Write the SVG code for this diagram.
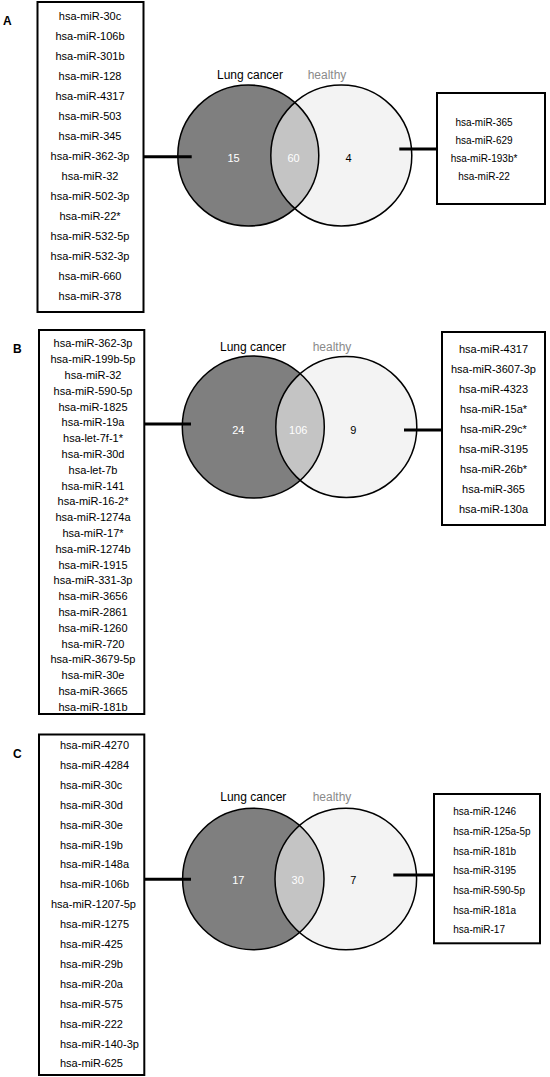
<svg xmlns="http://www.w3.org/2000/svg" width="550" height="1077" viewBox="0 0 550 1077">
<style>
.box{fill:#fff;stroke:#000;stroke-width:2}
.lst{font-family:"Liberation Sans",Arial,sans-serif;font-size:11px;fill:#000}
.c{text-anchor:middle}
.sm{font-size:10px}
.lc{fill:#7f7f7f;stroke:none}
.rc{fill:#f3f3f3;stroke:none}
.ln{fill:#c4c4c4;stroke:none}
.ol{fill:none;stroke:#000;stroke-width:1.5}
.ttl{font-family:"Liberation Sans",Arial,sans-serif;font-size:12px;text-anchor:middle}
.num{font-family:"Liberation Sans",Arial,sans-serif;font-size:11px;text-anchor:middle}
.w{fill:#fff}
.k{fill:#000}
.pl{font-family:"Liberation Sans",Arial,sans-serif;font-size:12px;font-weight:bold}
.con{stroke:#000;stroke-width:3;fill:none}
</style>
<defs>
<clipPath id="clipA"><circle cx="248.3" cy="155.5" r="70.5"/></clipPath>
<clipPath id="clipB"><circle cx="253.3" cy="427" r="71"/></clipPath>
<clipPath id="clipC"><circle cx="253.3" cy="879" r="70.7"/></clipPath>
</defs>
<rect width="550" height="1077" fill="#fff"/>

<text class="pl" x="3" y="25">A</text>
<text class="pl" x="13" y="353">B</text>
<text class="pl" x="13" y="758">C</text>

<!-- Panel A -->
<g id="A-list-left">
<rect class="box" x="37.5" y="2" width="106" height="310"/>
<g class="lst c">
<text x="90" y="20">hsa-miR-30c</text>
<text x="90" y="40">hsa-miR-106b</text>
<text x="90" y="60">hsa-miR-301b</text>
<text x="90" y="80">hsa-miR-128</text>
<text x="90" y="100">hsa-miR-4317</text>
<text x="90" y="120">hsa-miR-503</text>
<text x="90" y="140">hsa-miR-345</text>
<text x="90" y="160">hsa-miR-362-3p</text>
<text x="90" y="180">hsa-miR-32</text>
<text x="90" y="200">hsa-miR-502-3p</text>
<text x="90" y="220">hsa-miR-22*</text>
<text x="90" y="240">hsa-miR-532-5p</text>
<text x="90" y="260">hsa-miR-532-3p</text>
<text x="90" y="280">hsa-miR-660</text>
<text x="90" y="300">hsa-miR-378</text>
</g>
</g>
<g id="A-venn">
<text class="ttl k" x="250" y="79">Lung cancer</text>
<text class="ttl" x="327" y="79" fill="#8a8a8a">healthy</text>
<g id="A-lung"><circle class="lc" cx="248.3" cy="155.5" r="70.5"/></g>
<g id="A-healthy"><circle class="rc" cx="341.3" cy="155.5" r="70.5"/></g>
<circle class="ln" cx="341.3" cy="155.5" r="70.5" clip-path="url(#clipA)"/>
<circle class="ol" cx="248.3" cy="155.5" r="70.5"/>
<circle class="ol" cx="341.3" cy="155.5" r="70.5"/>
<text class="num w" x="233.5" y="161.5">15</text>
<text class="num w" x="293.5" y="161.5">60</text>
<text class="num k" x="348.5" y="161.5">4</text>
</g>
<g id="A-list-right">
<rect class="box" x="437" y="93" width="108" height="111"/>
<g class="lst c sm">
<text x="484" y="125.5">hsa-miR-365</text>
<text x="484" y="143.8">hsa-miR-629</text>
<text x="484" y="162.1">hsa-miR-193b*</text>
<text x="484" y="180.4">hsa-miR-22</text>
</g>
</g>

<!-- Panel B -->
<g id="B-list-left">
<rect class="box" x="39" y="330" width="105.3" height="384"/>
<g class="lst c">
<text x="93" y="347.3">hsa-miR-362-3p</text>
<text x="93" y="363.1">hsa-miR-199b-5p</text>
<text x="93" y="378.9">hsa-miR-32</text>
<text x="93" y="394.7">hsa-miR-590-5p</text>
<text x="93" y="410.5">hsa-miR-1825</text>
<text x="93" y="426.3">hsa-miR-19a</text>
<text x="93" y="442.1">hsa-let-7f-1*</text>
<text x="93" y="457.9">hsa-miR-30d</text>
<text x="93" y="473.7">hsa-let-7b</text>
<text x="93" y="489.5">hsa-miR-141</text>
<text x="93" y="505.3">hsa-miR-16-2*</text>
<text x="93" y="521.1">hsa-miR-1274a</text>
<text x="93" y="536.9">hsa-miR-17*</text>
<text x="93" y="552.7">hsa-miR-1274b</text>
<text x="93" y="568.5">hsa-miR-1915</text>
<text x="93" y="584.3">hsa-miR-331-3p</text>
<text x="93" y="600.1">hsa-miR-3656</text>
<text x="93" y="615.9">hsa-miR-2861</text>
<text x="93" y="631.7">hsa-miR-1260</text>
<text x="93" y="647.5">hsa-miR-720</text>
<text x="93" y="663.3">hsa-miR-3679-5p</text>
<text x="93" y="679.1">hsa-miR-30e</text>
<text x="93" y="694.9">hsa-miR-3665</text>
<text x="93" y="710.7">hsa-miR-181b</text>
</g>
</g>
<g id="B-venn">
<text class="ttl k" x="253" y="351">Lung cancer</text>
<text class="ttl" x="332" y="351" fill="#8a8a8a">healthy</text>
<g id="B-lung"><circle class="lc" cx="253.3" cy="427" r="71"/></g>
<g id="B-healthy"><circle class="rc" cx="346.3" cy="427" r="70.5"/></g>
<circle class="ln" cx="346.3" cy="427" r="70.5" clip-path="url(#clipB)"/>
<circle class="ol" cx="253.3" cy="427" r="71"/>
<circle class="ol" cx="346.3" cy="427" r="70.5"/>
<text class="num w" x="238.3" y="434">24</text>
<text class="num w" x="298.3" y="434">106</text>
<text class="num k" x="353.3" y="434">9</text>
</g>
<g id="B-list-right">
<rect class="box" x="442" y="332" width="103" height="193"/>
<g class="lst c">
<text x="493.5" y="353.3">hsa-miR-4317</text>
<text x="493.5" y="373.2">hsa-miR-3607-3p</text>
<text x="493.5" y="393.1">hsa-miR-4323</text>
<text x="493.5" y="413">hsa-miR-15a*</text>
<text x="493.5" y="432.9">hsa-miR-29c*</text>
<text x="493.5" y="452.8">hsa-miR-3195</text>
<text x="493.5" y="472.7">hsa-miR-26b*</text>
<text x="493.5" y="492.6">hsa-miR-365</text>
<text x="493.5" y="512.5">hsa-miR-130a</text>
</g>
</g>

<!-- Panel C -->
<g id="C-list-left">
<rect class="box" x="39" y="734.5" width="105.3" height="340.5"/>
<g class="lst">
<text x="60" y="749">hsa-miR-4270</text>
<text x="60" y="768.9">hsa-miR-4284</text>
<text x="60" y="788.8">hsa-miR-30c</text>
<text x="60" y="808.7">hsa-miR-30d</text>
<text x="60" y="828.6">hsa-miR-30e</text>
<text x="60" y="848.5">hsa-miR-19b</text>
<text x="60" y="868.4">hsa-miR-148a</text>
<text x="60" y="888.3">hsa-miR-106b</text>
<text x="51" y="908.2">hsa-miR-1207-5p</text>
<text x="60" y="928.1">hsa-miR-1275</text>
<text x="60" y="948">hsa-miR-425</text>
<text x="60" y="967.9">hsa-miR-29b</text>
<text x="60" y="987.8">hsa-miR-20a</text>
<text x="60" y="1007.7">hsa-miR-575</text>
<text x="60" y="1027.6">hsa-miR-222</text>
<text x="60" y="1047.5">hsa-miR-140-3p</text>
<text x="60" y="1067.4">hsa-miR-625</text>
</g>
</g>
<g id="C-venn">
<text class="ttl k" x="253.3" y="801">Lung cancer</text>
<text class="ttl" x="332" y="801" fill="#8a8a8a">healthy</text>
<g id="C-lung"><circle class="lc" cx="253.3" cy="879" r="70.7"/></g>
<g id="C-healthy"><circle class="rc" cx="345.8" cy="879" r="70.8"/></g>
<circle class="ln" cx="345.8" cy="879" r="70.8" clip-path="url(#clipC)"/>
<circle class="ol" cx="253.3" cy="879" r="70.7"/>
<circle class="ol" cx="345.8" cy="879" r="70.8"/>
<text class="num w" x="238.3" y="884">17</text>
<text class="num w" x="297.7" y="884">30</text>
<text class="num k" x="353.3" y="884">7</text>
</g>
<g id="C-list-right">
<rect class="box" x="434" y="794" width="106" height="149.3"/>
<g class="lst sm">
<text x="453.3" y="815.2">hsa-miR-1246</text>
<text x="453.3" y="834.9">hsa-miR-125a-5p</text>
<text x="453.3" y="854.6">hsa-miR-181b</text>
<text x="453.3" y="874.3">hsa-miR-3195</text>
<text x="453.3" y="894">hsa-miR-590-5p</text>
<text x="453.3" y="913.7">hsa-miR-181a</text>
<text x="453.3" y="933.4">hsa-miR-17</text>
</g>
</g>

<g id="connectors">
<line class="con" x1="144" y1="156.7" x2="191.7" y2="156.7"/>
<line class="con" x1="399.3" y1="149" x2="437" y2="149"/>
<line class="con" x1="144" y1="424" x2="191" y2="424"/>
<line class="con" x1="404" y1="430" x2="442" y2="430"/>
<line class="con" x1="144" y1="879.3" x2="191" y2="879.3"/>
<line class="con" x1="393.3" y1="875" x2="434" y2="875"/>
</g>
</svg>
